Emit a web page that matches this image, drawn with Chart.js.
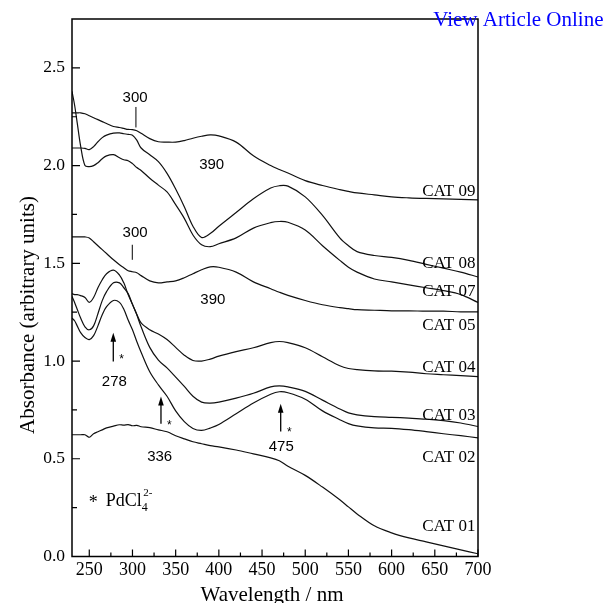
<!DOCTYPE html>
<html>
<head>
<meta charset="utf-8">
<title>UV-vis spectra CAT 01 - CAT 09</title>
<script src="https://cdn.jsdelivr.net/npm/chart.js@4.4.1/dist/chart.umd.min.js"></script>
<style>
  html, body { margin: 0; padding: 0; background: #fff; }
  #wrap { position: relative; width: 608px; height: 603px; }
</style>
</head>
<body>
<div id="wrap"><canvas id="uvChart" width="608" height="603"></canvas></div>
<script>
// wavelength grid (nm) shared by all spectra
const wavelengths = [230, 233, 236, 240, 245, 250, 255, 260, 265, 270, 278, 285, 290, 295, 300, 305, 310, 320, 330, 340,
  350, 360, 370, 380, 390, 400, 420, 440, 460, 470, 480, 500, 520, 540, 550, 560, 580, 600, 620, 640, 660, 680, 700];

// absorbance
const cat09 = [2.27, 2.27, 2.27, 2.27, 2.265, 2.255, 2.245, 2.235, 2.225, 2.215, 2.20, 2.195, 2.19, 2.185, 2.184, 2.178, 2.165, 2.138, 2.122, 2.12,
  2.12, 2.128, 2.14, 2.15, 2.157, 2.152, 2.12, 2.05, 2.0, 1.98, 1.962, 1.923, 1.898, 1.877, 1.868, 1.86, 1.85, 1.84, 1.835, 1.832, 1.83, 1.827, 1.825];
const cat08 = [2.09, 2.09, 2.09, 2.09, 2.088, 2.082, 2.097, 2.122, 2.143, 2.156, 2.166, 2.167, 2.163, 2.16, 2.155, 2.13, 2.09, 2.055, 2.02, 1.96,
  1.88, 1.79, 1.69, 1.632, 1.652, 1.69, 1.76, 1.83, 1.885, 1.897, 1.895, 1.84, 1.745, 1.63, 1.59, 1.56, 1.54, 1.53, 1.515, 1.495, 1.475, 1.455, 1.43];
const cat07 = [2.38, 2.31, 2.22, 2.10, 2.0, 1.995, 2.0, 2.015, 2.035, 2.05, 2.056, 2.04, 2.03, 2.025, 2.01, 1.99, 1.975, 1.935, 1.90, 1.865,
  1.80, 1.73, 1.645, 1.595, 1.585, 1.60, 1.63, 1.68, 1.708, 1.714, 1.71, 1.67, 1.59, 1.515, 1.48, 1.455, 1.42, 1.405, 1.39, 1.375, 1.36, 1.34, 1.30];
const cat05 = [1.635, 1.635, 1.635, 1.635, 1.635, 1.63, 1.61, 1.59, 1.57, 1.55, 1.518, 1.493, 1.477, 1.462, 1.457, 1.452, 1.437, 1.41, 1.40, 1.405,
  1.41, 1.426, 1.447, 1.467, 1.482, 1.48, 1.455, 1.405, 1.37, 1.352, 1.336, 1.31, 1.288, 1.273, 1.268, 1.263, 1.26, 1.257, 1.257, 1.255, 1.255, 1.252, 1.252];
const cat04 = [1.345, 1.34, 1.34, 1.335, 1.325, 1.30, 1.325, 1.375, 1.416, 1.447, 1.465, 1.44, 1.40, 1.34, 1.29, 1.24, 1.195, 1.16, 1.138, 1.11,
  1.07, 1.03, 1.003, 1.0, 1.01, 1.025, 1.048, 1.068, 1.094, 1.10, 1.094, 1.068, 1.022, 0.976, 0.962, 0.956, 0.95, 0.948, 0.943, 0.935, 0.93, 0.925, 0.92];
const cat03 = [1.33, 1.30, 1.265, 1.22, 1.175, 1.16, 1.18, 1.242, 1.309, 1.355, 1.40, 1.40, 1.375, 1.345, 1.29, 1.237, 1.175, 1.07, 1.005, 0.965,
  0.918, 0.87, 0.82, 0.79, 0.785, 0.79, 0.81, 0.835, 0.868, 0.873, 0.868, 0.845, 0.80, 0.755, 0.735, 0.725, 0.716, 0.712, 0.708, 0.703, 0.695, 0.683, 0.665];
const cat02 = [1.22, 1.206, 1.18, 1.145, 1.12, 1.11, 1.13, 1.18, 1.237, 1.278, 1.31, 1.30, 1.265, 1.21, 1.16, 1.10, 1.045, 0.945, 0.878, 0.82,
  0.745, 0.69, 0.655, 0.645, 0.657, 0.675, 0.73, 0.785, 0.83, 0.843, 0.838, 0.805, 0.745, 0.70, 0.68, 0.668, 0.658, 0.656, 0.649, 0.639, 0.628, 0.618, 0.607];
const cat01 = [0.623, 0.623, 0.623, 0.623, 0.623, 0.61, 0.628, 0.638, 0.648, 0.658, 0.667, 0.674, 0.672, 0.675, 0.669, 0.671, 0.664, 0.659, 0.648, 0.638,
  0.618, 0.602, 0.587, 0.577, 0.567, 0.561, 0.545, 0.525, 0.505, 0.49, 0.462, 0.415, 0.355, 0.29, 0.254, 0.218, 0.157, 0.121, 0.095, 0.075, 0.054, 0.034, 0.014];

const seriesNames = ['CAT 09', 'CAT 08', 'CAT 07', 'CAT 05', 'CAT 04', 'CAT 03', 'CAT 02', 'CAT 01'];
const seriesValues = [cat09, cat08, cat07, cat05, cat04, cat03, cat02, cat01];

// axis ticks
const xTicks = [250, 300, 350, 400, 450, 500, 550, 600, 650, 700];
const xMinor = [275, 325, 375, 425, 475, 525, 575, 625, 675];
const yTicks = [0, 0.5, 1.0, 1.5, 2.0, 2.5];
const yMinor = [0.25, 0.75, 1.25, 1.75, 2.25];

const SERIF = '"Liberation Serif", "Times New Roman", serif';
const SANS = '"Liberation Sans", Arial, sans-serif';

// frame, inward ticks and the in-plot notes
const figureExtras = {
  id: 'figureExtras',
  afterDraw(chart) {
    const { ctx, chartArea: a, scales: { x, y } } = chart;
    ctx.save();
    ctx.strokeStyle = '#000';
    ctx.fillStyle = '#000';

    ctx.lineWidth = 1.5;
    ctx.strokeRect(a.left, a.top, a.right - a.left, a.bottom - a.top);

    ctx.lineWidth = 1.2;
    ctx.beginPath();
    yTicks.forEach(v => { const p = y.getPixelForValue(v); ctx.moveTo(a.left, p); ctx.lineTo(a.left + 8, p); });
    yMinor.forEach(v => { const p = y.getPixelForValue(v); ctx.moveTo(a.left, p); ctx.lineTo(a.left + 5, p); });
    xTicks.forEach(v => { const p = x.getPixelForValue(v); ctx.moveTo(p, a.bottom); ctx.lineTo(p, a.bottom - 7); });
    xMinor.forEach(v => { const p = x.getPixelForValue(v); ctx.moveTo(p, a.bottom); ctx.lineTo(p, a.bottom - 4); });
    ctx.stroke();

    // peak numbers
    ctx.font = '15px ' + SANS;
    ctx.textAlign = 'center';
    ctx.textBaseline = 'middle';
    [['300', 303, 2.345], ['390', 391.7, 2.002], ['300', 303, 1.654], ['390', 393, 1.314],
     ['278', 279, 0.894], ['336', 331.5, 0.508], ['475', 472.2, 0.561]].forEach(n => {
      ctx.fillText(n[0], x.getPixelForValue(n[1]), y.getPixelForValue(n[2]));
    });

    // short marker lines under the two "300"
    ctx.lineWidth = 1;
    ctx.beginPath();
    [[304, 2.30, 2.195], [299.8, 1.595, 1.518]].forEach(m => {
      const px = x.getPixelForValue(m[0]);
      ctx.moveTo(px, y.getPixelForValue(m[1]));
      ctx.lineTo(px, y.getPixelForValue(m[2]));
    });
    ctx.stroke();

    // arrows with asterisks
    [[277.8, 0.998, 1.145, 287.5, 1.024], [333, 0.679, 0.819, 342.6, 0.686], [471.6, 0.64, 0.781, 481.6, 0.652]].forEach(r => {
      const px = x.getPixelForValue(r[0]);
      const yb = y.getPixelForValue(r[1]);
      const yt = y.getPixelForValue(r[2]);
      ctx.lineWidth = 1.3;
      ctx.beginPath();
      ctx.moveTo(px, yb);
      ctx.lineTo(px, yt + 6);
      ctx.stroke();
      ctx.beginPath();
      ctx.moveTo(px, yt);
      ctx.lineTo(px - 2.8, yt + 9);
      ctx.lineTo(px + 2.8, yt + 9);
      ctx.closePath();
      ctx.fill();
      ctx.font = '12px ' + SANS;
      ctx.textBaseline = 'alphabetic';
      ctx.fillText('*', x.getPixelForValue(r[3]), y.getPixelForValue(r[4]) + 7);
    });

    // series labels
    ctx.font = '17px ' + SERIF;
    ctx.textAlign = 'right';
    ctx.textBaseline = 'alphabetic';
    const labelY = [1.842, 1.476, 1.331, 1.160, 0.942, 0.696, 0.481, 0.132];
    seriesNames.forEach((name, i) => {
      ctx.fillText(name, a.right - 2.5, y.getPixelForValue(labelY[i]));
    });

    // PdCl4(2-) key
    ctx.textAlign = 'center';
    ctx.font = '18px ' + SERIF;
    ctx.fillText('*', x.getPixelForValue(254.7), y.getPixelForValue(0.296) + 9.5);
    ctx.textAlign = 'left';
    const kx = x.getPixelForValue(269);
    const ky = y.getPixelForValue(0.256);
    ctx.fillText('PdCl', kx, ky);
    const kw = ctx.measureText('PdCl').width;
    ctx.font = '12px ' + SERIF;
    ctx.fillText('4', kx + kw, ky + 5);
    ctx.font = '11px ' + SERIF;
    ctx.fillText('2-', kx + kw + 1.5, ky - 10);

    // axis titles
    ctx.font = '21px ' + SERIF;
    ctx.textAlign = 'center';
    ctx.textBaseline = 'alphabetic';
    ctx.fillText('Wavelength / nm', 272, 601);
    ctx.save();
    ctx.translate(34, 315);
    ctx.rotate(-Math.PI / 2);
    ctx.fillText('Absorbance (arbitrary units)', 0, 0);
    ctx.restore();

    // page link
    ctx.fillStyle = '#0000ff';
    ctx.font = '21px ' + SERIF;
    ctx.textAlign = 'left';
    ctx.fillText('View Article Online', 433.3, 25.5);
    ctx.restore();
  }
};

const datasets = seriesNames.map((name, i) => ({
  label: name,
  data: wavelengths.map((w, j) => ({ x: w, y: seriesValues[i][j] })),
  borderColor: '#111',
  borderWidth: 1.2,
  pointRadius: 0,
  fill: false,
  tension: 0.35
}));

new Chart(document.getElementById('uvChart'), {
  type: 'line',
  data: { datasets },
  plugins: [figureExtras],
  options: {
    responsive: false,
    animation: false,
    layout: { padding: { left: 0, top: 19, right: 130, bottom: 0 } },
    plugins: { legend: { display: false }, tooltip: { enabled: false } },
    scales: {
      x: {
        type: 'linear',
        min: 230, max: 700,
        grid: { display: false, drawTicks: false },
        border: { display: false },
        afterBuildTicks: s => { s.ticks = xTicks.map(v => ({ value: v })); },
        afterFit: s => { s.height = 46.5; },
        ticks: { autoSkip: false, maxRotation: 0, padding: 3, color: '#000', font: { family: SERIF, size: 18 } }
      },
      y: {
        min: 0, max: 2.75,
        grid: { display: false, drawTicks: false },
        border: { display: false },
        afterBuildTicks: s => { s.ticks = yTicks.map(v => ({ value: v })); },
        afterFit: s => { s.width = 72; },
        ticks: { padding: 7, color: '#000', font: { family: SERIF, size: 17.5 }, callback: v => v.toFixed(1) }
      }
    }
  }
});
</script>
</body>
</html>
